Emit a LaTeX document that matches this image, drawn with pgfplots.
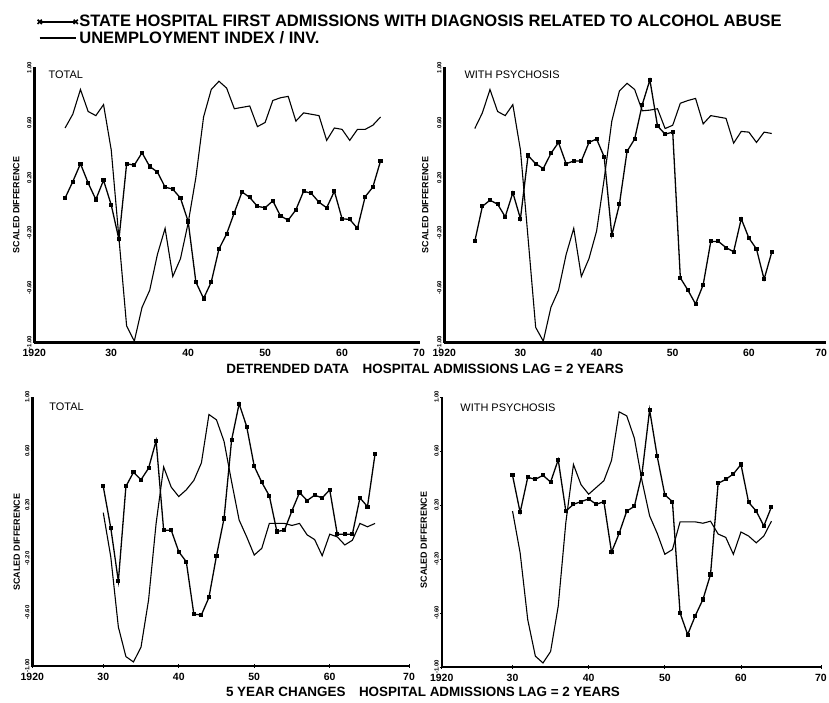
\documentclass[border=0pt]{standalone}
\usepackage{fontspec}
\setmainfont{Liberation Sans}
\usepackage{pgfplots}
\usepackage{pgfplotstable}
\pgfplotsset{compat=1.18}

\pgfplotstableread{
year adm unemp
1924 0.05 0.56
1925 0.17 0.66
1926 0.30 0.84
1927 0.16 0.68
1928 0.04 0.65
1929 0.18 0.73
1930 0.00 0.40
1931 -0.25 -0.24
1932 0.30 -0.88
1933 0.29 -0.99
1934 0.38 -0.745
1935 0.28 -0.62
1936 0.24 -0.36
1937 0.13 -0.17
1938 0.115 -0.52
1939 0.05 -0.39
1940 -0.12 -0.13
1941 -0.56 0.20
1942 -0.68 0.64
1943 -0.56 0.84
1944 -0.32 0.90
1945 -0.21 0.85
1946 -0.055 0.70
1947 0.095 0.71
1948 0.055 0.72
1949 -0.01 0.57
1950 -0.02 0.60
1951 0.03 0.76
1952 -0.08 0.78
1953 -0.11 0.79
1954 -0.035 0.61
1955 0.10 0.67
1956 0.085 0.66
1957 0.02 0.65
1958 -0.02 0.47
1959 0.10 0.56
1960 -0.10 0.55
1961 -0.105 0.47
1962 -0.17 0.55
1963 0.06 0.55
1964 0.13 0.58
1965 0.32 0.64
}\tabTL

\pgfplotstableread{
year adm unemp
1924 -0.265 0.556
1925 -0.01 0.67
1926 0.035 0.84
1927 0.006 0.68
1928 -0.086 0.65
1929 0.09 0.73
1930 -0.10 0.40
1931 0.36 -0.24
1932 0.30 -0.89
1933 0.265 -0.99
1934 0.375 -0.745
1935 0.455 -0.62
1936 0.30 -0.36
1937 0.32 -0.17
1938 0.32 -0.52
1939 0.455 -0.39
1940 0.48 -0.19
1941 0.35 0.19
1942 -0.22 0.61
1943 0.006 0.83
1944 0.39 0.885
1945 0.48 0.84
1946 0.73 0.685
1947 0.91 0.69
1948 0.575 0.70
1949 0.515 0.556
1950 0.53 0.58
1951 -0.53 0.74
1952 -0.62 0.76
1953 -0.72 0.775
1954 -0.58 0.59
1955 -0.265 0.65
1956 -0.265 0.64
1957 -0.31 0.63
1958 -0.34 0.45
1959 -0.10 0.535
1960 -0.24 0.53
1961 -0.32 0.455
1962 -0.54 0.53
1963 -0.345 0.52
}\tabTR

\pgfplotstableread{
year adm unemp
1930 0.335 0.14
1931 0.025 -0.19
1932 -0.37 -0.71
1933 0.335 -0.93
1934 0.44 -0.97
1935 0.385 -0.86
1936 0.47 -0.51
1937 0.675 0.06
1938 0.01 0.48
1939 0.01 0.33
1940 -0.15 0.26
1941 -0.225 0.31
1942 -0.615 0.38
1943 -0.62 0.51
1944 -0.49 0.87
1945 -0.18 0.83
1946 0.097 0.67
1947 0.68 0.37
1948 0.95 0.085
1949 0.78 -0.04
1950 0.485 -0.175
1951 0.365 -0.125
1952 0.265 0.06
1953 0.0 0.06
1954 0.01 0.06
1955 0.155 0.045
1956 0.29 0.06
1957 0.23 -0.025
1958 0.27 -0.06
1959 0.25 -0.18
1960 0.31 -0.02
1961 -0.02 -0.04
1962 -0.02 -0.10
1963 -0.02 -0.065
1964 0.25 0.06
1965 0.185 0.035
1966 0.575 0.06
}\tabBL

\pgfplotstableread{
year adm unemp
1930 0.42 0.155
1931 0.145 -0.155
1932 0.405 -0.65
1933 0.39 -0.92
1934 0.42 -0.97
1935 0.37 -0.885
1936 0.535 -0.55
1937 0.155 0.07
1938 0.205 0.50
1939 0.225 0.35
1940 0.245 0.28
1941 0.205 0.33
1942 0.225 0.38
1943 -0.15 0.53
1944 -0.01 0.89
1945 0.155 0.86
1946 0.19 0.695
1947 0.43 0.38
1948 0.905 0.12
1949 0.56 -0.01
1950 0.275 -0.165
1951 0.225 -0.13
1952 -0.60 0.075
1953 -0.76 0.075
1954 -0.62 0.075
1955 -0.50 0.065
1956 -0.315 0.08
1957 0.36 -0.015
1958 0.39 -0.04
1959 0.43 -0.165
1960 0.50 0.0
1961 0.22 -0.03
1962 0.155 -0.08
1963 0.045 -0.03
1964 0.185 0.08
}\tabBR

\pgfplotsset{
  panel/.style={
    scale only axis,
    ymin=-1, ymax=1,
    axis x line*=bottom, axis y line*=left,
    axis line style={line width=2.4bp, -},
    ytick={-1,-0.6,-0.2,0.2,0.6,1},
    yticklabels={-1.00,-0.60,-0.20,0.20,0.60,1.00},
    yticklabel style={rotate=90, anchor=south, font=\fontsize{6}{7}\selectfont\bfseries, inner sep=1bp},
    xticklabel style={font=\fontsize{10.5}{12}\selectfont\bfseries, inner sep=1bp, yshift=-4bp},
    tick style={black, line width=0.8bp},
    major tick length=3.5bp,
    tick align=center,
    ylabel={SCALED DIFFERENCE},
    ylabel style={font=\fontsize{9}{10}\selectfont\bfseries, anchor=center},
    clip=false,
  },
  adm/.style={black, line width=1.3bp, mark=square*, mark size=1.4bp, mark options={solid}},
  une/.style={black, line width=1.1bp, no marks},
}

\begin{document}
\begin{tikzpicture}
\path[use as bounding box] (0,0) rectangle (829bp,703bp);

% top left
\begin{axis}[panel, at={(34.3bp,360.5bp)}, anchor=south west, width=384.7bp, height=275bp,
  xmin=1920, xmax=1970, xtick={1920,1930,1940,1950,1960,1970},
  xticklabels={1920,30,40,50,60,70},
  ylabel style={at={(axis description cs:-0.047,0.5)}},
  legend image code/.code={\draw[#1] plot coordinates {(0bp,0bp) (36bp,0bp)};},
  legend style={at={(axis description cs:0.008,1.196)}, anchor=north west, draw=none, fill=none,
    font=\fontsize{16.6}{18}\selectfont\bfseries, inner sep=0pt, row sep=0bp,
    nodes={inner sep=1.5bp}},
  legend cell align=left]
\addlegendimage{black, line width=1.4bp, mark=x, mark size=3bp, mark options={line width=1.6bp}}
\addlegendentry{STATE HOSPITAL FIRST ADMISSIONS WITH DIAGNOSIS RELATED TO ALCOHOL ABUSE}
\addlegendimage{black, line width=1.4bp}
\addlegendentry{UNEMPLOYMENT INDEX / INV.}
\addplot[une, forget plot] table[x=year, y=unemp] {\tabTL};
\addplot[adm, forget plot] table[x=year, y=adm] {\tabTL};
\node[anchor=west, font=\fontsize{11}{12}\selectfont] at (rel axis cs:0.028,0.973) {TOTAL};
\end{axis}

% top right
\begin{axis}[panel, at={(444.3bp,360.5bp)}, anchor=south west, width=380.7bp, height=275bp,
  xmin=1920, xmax=1970, xtick={1920,1930,1940,1950,1960,1970},
  xticklabels={1920,30,40,50,60,\hbox to 0pt{\hss 70\kern-2bp}},
  ylabel style={at={(axis description cs:-0.05,0.5)}}]
\addplot[une] table[x=year, y=unemp] {\tabTR};
\addplot[adm] table[x=year, y=adm] {\tabTR};
\node[anchor=west, font=\fontsize{11}{12}\selectfont] at (rel axis cs:0.044,0.973) {WITH PSYCHOSIS};
\end{axis}

% bottom left
\begin{axis}[panel, at={(32.3bp,37bp)}, anchor=south west, width=376.7bp, height=269bp,
  xmin=1920.6, xmax=1970.5, xtick={1920.6,1930,1940,1950,1960,1970.5},
  xticklabels={1920,30,40,50,60,70},
  ylabel style={at={(axis description cs:-0.041,0.46)}}]
\addplot[une] table[x=year, y=unemp] {\tabBL};
\addplot[adm] table[x=year, y=adm] {\tabBL};
\node[anchor=west, font=\fontsize{11}{12}\selectfont] at (rel axis cs:0.036,0.963) {TOTAL};
\end{axis}

% bottom right
\begin{axis}[panel, at={(441.7bp,36bp)}, anchor=south west, width=380bp, height=270bp,
  xmin=1920.7, xmax=1970.6, xtick={1920.7,1930,1940,1950,1960,1970.6},
  xticklabels={1920,30,40,50,60,\hbox to 0pt{\hss 70\kern-5bp}},
  ylabel style={at={(axis description cs:-0.047,0.47)}}]
\addplot[une] table[x=year, y=unemp] {\tabBR};
\addplot[adm] table[x=year, y=adm] {\tabBR};
\node[anchor=west, font=\fontsize{11}{12}\selectfont] at (rel axis cs:0.04,0.96) {WITH PSYCHOSIS};
\end{axis}

\node[font=\fontsize{13.5}{15}\selectfont\bfseries] at (425bp,334bp) {DETRENDED DATA\quad HOSPITAL ADMISSIONS LAG = 2 YEARS};
\node[font=\fontsize{13.5}{15}\selectfont\bfseries] at (423bp,11bp) {5 YEAR CHANGES\quad HOSPITAL ADMISSIONS LAG = 2 YEARS};
\end{tikzpicture}
\end{document}
